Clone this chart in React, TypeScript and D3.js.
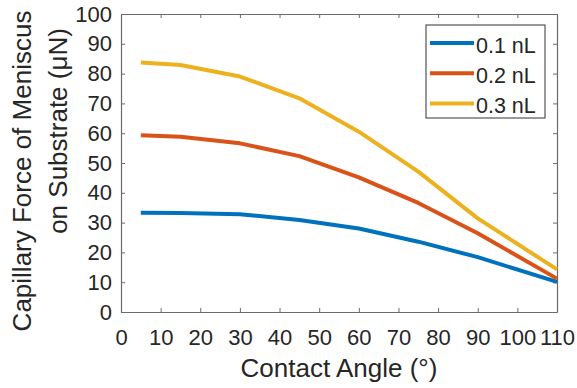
import * as d3 from "d3";
import React, { useEffect, useRef } from "react";

// contact angle (deg) and capillary force (uN) for each droplet volume
const angles = [5, 15, 30, 45, 60, 75, 90, 110];
const force01 = [33.3, 33.2, 32.8, 30.9, 28.0, 23.6, 18.4, 10.1];
const force02 = [59.3, 58.8, 56.6, 52.3, 45.2, 36.6, 26.4, 11.2];
const force03 = [83.7, 82.9, 79.0, 71.7, 60.5, 47.1, 31.4, 14.3];
const seriesNames = ["0.1 nL", "0.2 nL", "0.3 nL"];
const xTicks = d3.range(0, 111, 10);
const yTicks = d3.range(0, 101, 10);

const colors = ["#0072BD", "#D95319", "#EDB120"];
const font = "'Liberation Sans', Arial, Helvetica, sans-serif";
const axisColor = "#6b6b6b";
const textColor = "#262626";

function Chart() {
  const ref = useRef(null);

  useEffect(() => {
    if (!ref.current) return;
    const width = 577;
    const height = 388;
    const marginLeft = 121;
    const marginRight = 20;
    const marginTop = 14;
    const marginBottom = 76;

    const svg = d3.select(ref.current);
    svg.selectChildren().remove();
    svg.attr("viewBox", [0, 0, width, height]);

    const x = d3
      .scaleLinear()
      .domain([0, 110])
      .range([marginLeft, width - marginRight]);
    const y = d3
      .scaleLinear()
      .domain([0, 100])
      .range([height - marginBottom, marginTop]);

    svg
      .append("rect")
      .attr("width", width)
      .attr("height", height)
      .attr("fill", "white");

    // axes, ticks point inward like matlab
    const styleAxis = (g) => {
      g.select(".domain").attr("stroke", axisColor).attr("stroke-width", 1.2);
      g.selectAll(".tick line").attr("stroke", axisColor);
      g.selectAll(".tick text")
        .attr("fill", textColor)
        .style("font-family", font)
        .style("font-size", "22px");
    };

    svg
      .append("g")
      .attr("transform", `translate(0,${y(0)})`)
      .call(d3.axisBottom(x).tickValues(xTicks).tickSize(-4).tickSizeOuter(0).tickPadding(17))
      .call(styleAxis);
    svg
      .append("g")
      .attr("transform", `translate(${x(0)},0)`)
      .call(d3.axisLeft(y).tickValues(yTicks).tickSize(-4).tickSizeOuter(0).tickPadding(9))
      .call(styleAxis);
    svg
      .append("g")
      .attr("transform", `translate(0,${y(100)})`)
      .call(d3.axisTop(x).tickValues(xTicks).tickSize(-4).tickSizeOuter(0).tickFormat(() => ""))
      .call(styleAxis);
    svg
      .append("g")
      .attr("transform", `translate(${x(110)},0)`)
      .call(d3.axisRight(y).tickValues(yTicks).tickSize(-4).tickSizeOuter(0).tickFormat(() => ""))
      .call(styleAxis);

    const line = d3
      .line()
      .x((d) => x(d[0]))
      .y((d) => y(d[1]));

    const series = [force01, force02, force03];
    svg
      .append("g")
      .attr("fill", "none")
      .attr("stroke-width", 4)
      .attr("stroke-linejoin", "round")
      .selectAll("path")
      .data(series)
      .join("path")
      .attr("stroke", (d, i) => colors[i])
      .attr("d", (d) => line(d3.zip(angles, d)));

    // axis titles
    svg
      .append("text")
      .attr("x", (x(0) + x(110)) / 2)
      .attr("y", 377)
      .attr("text-anchor", "middle")
      .attr("fill", textColor)
      .style("font-family", font)
      .style("font-size", "26px")
      .text("Contact Angle (°)");

    svg
      .append("text")
      .attr("transform", "translate(31,171) rotate(-90)")
      .attr("text-anchor", "middle")
      .attr("fill", textColor)
      .style("font-family", font)
      .style("font-size", "26px")
      .text("Capillary Force of Meniscus");
    svg
      .append("text")
      .attr("transform", "translate(67,131) rotate(-90)")
      .attr("text-anchor", "middle")
      .attr("fill", textColor)
      .style("font-family", font)
      .style("font-size", "26px")
      .text("on Substrate (μN)");

    // legend
    const legend = svg.append("g").attr("transform", "translate(426,25)");
    legend
      .append("rect")
      .attr("width", 119)
      .attr("height", 93)
      .attr("fill", "white")
      .attr("stroke", "#333")
      .attr("stroke-width", 1);
    const rows = legend
      .selectAll("g")
      .data(seriesNames)
      .join("g")
      .attr("transform", (d, i) => `translate(0,${18 + i * 30.3})`);
    rows
      .append("line")
      .attr("x1", 4)
      .attr("x2", 48)
      .attr("stroke", (d, i) => colors[i])
      .attr("stroke-width", 4);
    rows
      .append("text")
      .attr("x", 50)
      .attr("y", 9.5)
      .attr("fill", textColor)
      .style("font-family", font)
      .style("font-size", "21.5px")
      .text((d) => d);
  }, []);

  return (
    <svg
      ref={ref}
      width={577}
      height={388}
      style={{ position: "absolute", left: 0, top: 0 }}
    ></svg>
  );
}

export default function App() {
  return <Chart />;
}
